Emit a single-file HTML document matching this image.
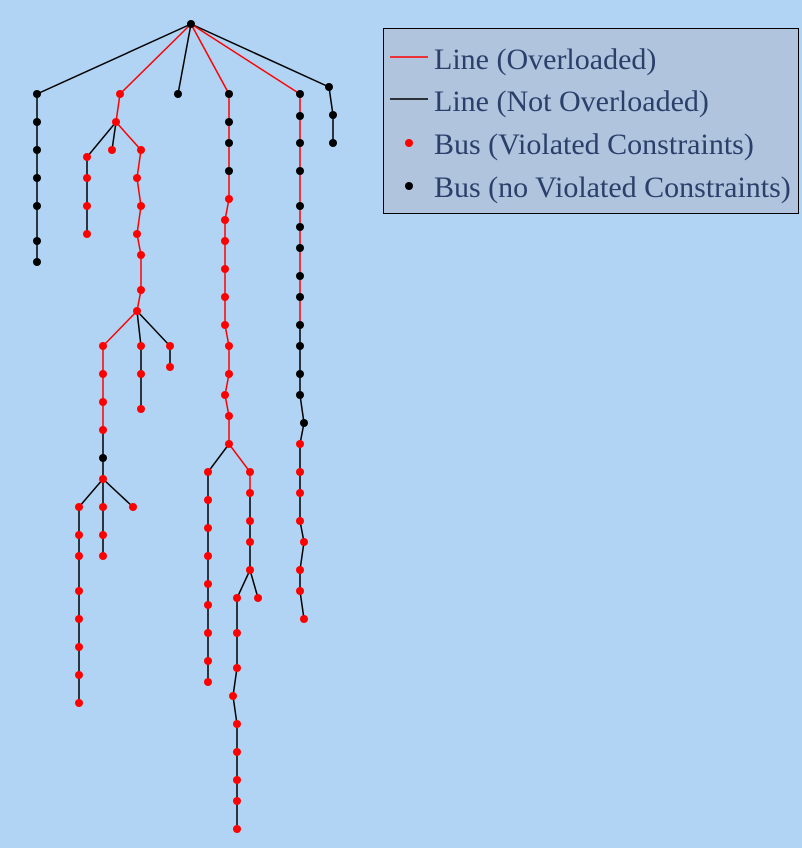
<!DOCTYPE html>
<html><head><meta charset="utf-8"><style>
html,body{margin:0;padding:0;background:#b1d4f4;width:802px;height:848px;overflow:hidden}
svg{display:block}
.r{stroke:#ff0000;stroke-width:1.5;fill:none}
.k{stroke:#000;stroke-width:1.5;fill:none}
.t{font-family:"Liberation Serif",serif;font-size:30px;fill:#2a3f6a}
</style></head><body>
<svg width="802" height="848" xmlns="http://www.w3.org/2000/svg">
<g class="k">
<polyline points="191,24 37,94 37,262"/>
<line x1="191" y1="24" x2="178" y2="94"/>
<polyline points="191,24 329,87 333,115 333,143"/>
<polyline points="116,122 87,157 87,234"/>
<line x1="116" y1="122" x2="112" y2="150"/>
<polyline points="137,311 141,346 141,409"/>
<polyline points="137,311 170,346 170,367"/>
<polyline points="103,430 103,479"/>
<polyline points="103,479 79,507 79,703"/>
<polyline points="103,479 103,556"/>
<line x1="103" y1="479" x2="133" y2="507"/>
<polyline points="229,444 208,472 208,682"/>
<polyline points="250,493 250,570"/>
<polyline points="250,570 237,598 237,668 233,696 237,724 237,829"/>
<line x1="250" y1="570" x2="258" y2="598"/>
<polyline points="300,325 300,395 304,423 300,444 300,521 304,542 300,570 300,591 304,619"/>
</g>
<g class="r">
<polyline points="191,24 120,94 116,122 141,150 137,178 141,206 137,234 141,255 141,290 137,311 103,346 103,430"/>
<polyline points="191,24 229,94 229,199 225,220 225,325 229,346 229,374 225,395 229,416 229,444 250,472 250,493"/>
<polyline points="191,24 300,94 300,325"/>
</g>
<g fill="#000">
<circle cx="191" cy="24" r="4"/>
<circle cx="37" cy="94" r="4"/><circle cx="37" cy="122" r="4"/><circle cx="37" cy="150" r="4"/><circle cx="37" cy="178" r="4"/><circle cx="37" cy="206" r="4"/><circle cx="37" cy="241" r="4"/><circle cx="37" cy="262" r="4"/>
<circle cx="178" cy="94" r="4"/>
<circle cx="329" cy="87" r="4"/><circle cx="333" cy="115" r="4"/><circle cx="333" cy="143" r="4"/>
<circle cx="229" cy="94" r="4"/><circle cx="229" cy="122" r="4"/><circle cx="229" cy="143" r="4"/><circle cx="229" cy="171" r="4"/>
<circle cx="300" cy="94" r="4"/><circle cx="300" cy="116" r="4"/><circle cx="300" cy="143" r="4"/><circle cx="300" cy="171" r="4"/><circle cx="300" cy="206" r="4"/><circle cx="300" cy="227" r="4"/><circle cx="300" cy="248" r="4"/><circle cx="300" cy="276" r="4"/><circle cx="300" cy="297" r="4"/><circle cx="300" cy="325" r="4"/><circle cx="300" cy="346" r="4"/><circle cx="300" cy="374" r="4"/><circle cx="300" cy="395" r="4"/><circle cx="304" cy="423" r="4"/>
<circle cx="103" cy="458" r="4"/>
</g>
<g fill="#ff0000">
<circle cx="120" cy="94" r="4"/><circle cx="116" cy="122" r="4"/><circle cx="112" cy="150" r="4"/>
<circle cx="87" cy="157" r="4"/><circle cx="87" cy="178" r="4"/><circle cx="87" cy="206" r="4"/><circle cx="87" cy="234" r="4"/>
<circle cx="141" cy="150" r="4"/><circle cx="137" cy="178" r="4"/><circle cx="141" cy="206" r="4"/><circle cx="137" cy="234" r="4"/><circle cx="141" cy="255" r="4"/><circle cx="141" cy="290" r="4"/><circle cx="137" cy="311" r="4"/>
<circle cx="103" cy="346" r="4"/><circle cx="141" cy="346" r="4"/><circle cx="170" cy="346" r="4"/><circle cx="170" cy="367" r="4"/>
<circle cx="141" cy="374" r="4"/><circle cx="141" cy="409" r="4"/>
<circle cx="103" cy="374" r="4"/><circle cx="103" cy="402" r="4"/><circle cx="103" cy="430" r="4"/><circle cx="103" cy="479" r="4"/>
<circle cx="79" cy="507" r="4"/><circle cx="103" cy="507" r="4"/><circle cx="133" cy="507" r="4"/>
<circle cx="79" cy="535" r="4"/><circle cx="79" cy="556" r="4"/><circle cx="79" cy="591" r="4"/><circle cx="79" cy="619" r="4"/><circle cx="79" cy="647" r="4"/><circle cx="79" cy="675" r="4"/><circle cx="79" cy="703" r="4"/>
<circle cx="103" cy="535" r="4"/><circle cx="103" cy="556" r="4"/>
<circle cx="229" cy="199" r="4"/><circle cx="225" cy="220" r="4"/><circle cx="225" cy="241" r="4"/><circle cx="225" cy="269" r="4"/><circle cx="225" cy="297" r="4"/><circle cx="225" cy="325" r="4"/><circle cx="229" cy="346" r="4"/><circle cx="229" cy="374" r="4"/><circle cx="225" cy="395" r="4"/><circle cx="229" cy="416" r="4"/><circle cx="229" cy="444" r="4"/>
<circle cx="208" cy="472" r="4"/><circle cx="208" cy="500" r="4"/><circle cx="208" cy="528" r="4"/><circle cx="208" cy="556" r="4"/><circle cx="208" cy="584" r="4"/><circle cx="208" cy="605" r="4"/><circle cx="208" cy="633" r="4"/><circle cx="208" cy="661" r="4"/><circle cx="208" cy="682" r="4"/>
<circle cx="250" cy="472" r="4"/><circle cx="250" cy="493" r="4"/><circle cx="250" cy="521" r="4"/><circle cx="250" cy="542" r="4"/><circle cx="250" cy="570" r="4"/>
<circle cx="237" cy="598" r="4"/><circle cx="258" cy="598" r="4"/><circle cx="237" cy="633" r="4"/><circle cx="237" cy="668" r="4"/><circle cx="233" cy="696" r="4"/><circle cx="237" cy="724" r="4"/><circle cx="237" cy="752" r="4"/><circle cx="237" cy="780" r="4"/><circle cx="237" cy="801" r="4"/><circle cx="237" cy="829" r="4"/>
<circle cx="300" cy="444" r="4"/><circle cx="300" cy="472" r="4"/><circle cx="300" cy="493" r="4"/><circle cx="300" cy="521" r="4"/><circle cx="304" cy="542" r="4"/><circle cx="300" cy="570" r="4"/><circle cx="300" cy="591" r="4"/><circle cx="304" cy="619" r="4"/>
</g>
<rect x="383.5" y="28.5" width="415" height="185" fill="#b0c4de" stroke="#000" stroke-width="1"/>
<line x1="390" y1="57" x2="428" y2="57" stroke="#ff0000" stroke-width="1.5"/>
<line x1="390" y1="99" x2="428" y2="99" stroke="#000" stroke-width="1.5"/>
<circle cx="409" cy="143" r="4" fill="#ff0000"/>
<circle cx="409" cy="186" r="4" fill="#000"/>
<text class="t" x="434" y="69">Line (Overloaded)</text>
<text class="t" x="434" y="111">Line (Not Overloaded)</text>
<text class="t" x="434" y="154">Bus (Violated Constraints)</text>
<text class="t" x="434" y="197">Bus (no Violated Constraints)</text>
</svg>
</body></html>
